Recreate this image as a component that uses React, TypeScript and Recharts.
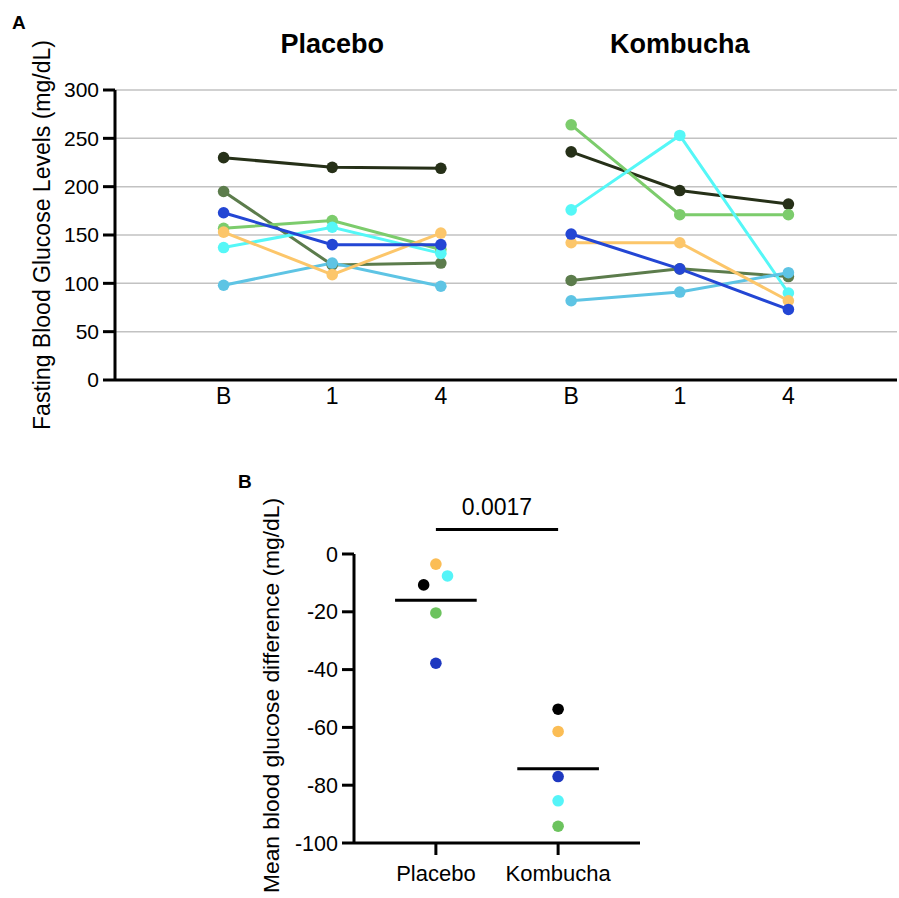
import React from 'react';
import {
  LineChart,
  Line,
  XAxis,
  YAxis,
  CartesianGrid,
  ScatterChart,
  Scatter,
  ReferenceLine,
} from 'recharts';

// ---------- Panel A data ----------
const timepoints = ['B', '1', '4'];
const groups = ['Placebo', 'Kombucha'];
const glucoseTicks = [0, 50, 100, 150, 200, 250, 300];

// rows = subjects, columns = timepoints (B, 1, 4)
const placeboGlucose = [
  [230, 220, 219],
  [195, 119, 121],
  [157, 165, 135],
  [137, 158, 131],
  [98, 121, 97],
  [153, 109, 152],
  [173, 140, 140],
];
const kombuchaGlucose = [
  [236, 196, 182],
  [103, 115, 107],
  [264, 171, 171],
  [176, 253, 90],
  [82, 91, 111],
  [142, 142, 82],
  [151, 115, 73],
];

// ---------- Panel B data ----------
const diffGroups = ['Placebo', 'Kombucha'];
const diffTicks = [0, -20, -40, -60, -80, -100];
const placeboDiff = [-10.7, -20.4, -7.6, -3.5, -37.8];
const kombuchaDiff = [-53.7, -94.2, -85.4, -61.4, -77.0];
const pValue = '0.0017';

// ---------- styles / layout ----------
const subjectColors = ['#263018', '#5c7c4c', '#7ccc6c', '#55f7f7', '#5ec4e4', '#fcc66a', '#2346d4'];
const diffColors = ['#000000', '#6cc35e', '#55f4f8', '#fbbd55', '#1e38c0'];
const placeboJitter = [-0.1, 0, 0.095, 0, 0];
const kombuchaJitter = [0, 0, 0, 0, 0];
const GROUP_STEP = timepoints.length + 0.2;
const FONT = '"Liberation Sans", Arial, Helvetica, sans-serif';

const glucoseSeries = [placeboGlucose, kombuchaGlucose];
const glucoseRows = groups.flatMap((g, gi) =>
  timepoints.map((t, ti) => {
    const row: Record<string, any> = { x: 1 + ti + gi * GROUP_STEP, label: t };
    glucoseSeries[gi].forEach((vals, si) => {
      row[`g${gi}s${si}`] = vals[ti];
    });
    return row;
  })
);
const glucoseTickPositions = glucoseRows.map((r) => r.x);
const groupCenters = groups.map((_, gi) => 1 + (timepoints.length - 1) / 2 + gi * GROUP_STEP);

const labelForX = (v: number) => {
  const r = glucoseRows.find((row) => Math.abs(row.x - v) < 1e-6);
  return r ? r.label : '';
};
const groupForX = (v: number) => {
  const i = groupCenters.findIndex((c) => Math.abs(c - v) < 1e-6);
  return i >= 0 ? groups[i] : '';
};

const mean = (a: number[]) => a.reduce((s, v) => s + v, 0) / a.length;
const diffSeries = [placeboDiff, kombuchaDiff];
const diffJitter = [placeboJitter, kombuchaJitter];
const subjectDiffData = diffColors.map((_, si) =>
  diffSeries.map((vals, gi) => ({ x: gi + 1 + diffJitter[gi][si], y: vals[si] }))
);
const diffMeans = diffSeries.map(mean);
const MEAN_HALF = 0.334;
const SIG_Y = 8.5;

const axisStroke = { stroke: '#000', strokeWidth: 3 };

const makeVerticalLabel =
  (text: string, baselineX: number, fontSize: number, shiftY = 0) =>
  (props: any) => {
    const vb = props.viewBox || {};
    const cy = vb.y + vb.height / 2 + shiftY;
    return (
      <text
        x={baselineX}
        y={cy}
        transform={`rotate(-90 ${baselineX} ${cy})`}
        textAnchor="middle"
        fontSize={fontSize}
        fill="#000"
        fontFamily={FONT}
      >
        {text}
      </text>
    );
  };

const Dot = (props: any) => {
  const { cx, cy, fill } = props;
  if (cx == null || cy == null) return null;
  return <circle cx={cx} cy={cy} r={5.8} fill={fill} />;
};

export default function App() {
  return (
    <div
      style={{
        position: 'absolute',
        left: 0,
        top: 0,
        width: 899,
        height: 898,
        background: '#fff',
        fontFamily: FONT,
        overflow: 'hidden',
      }}
    >
      <div style={{ position: 'absolute', left: 0, top: 0 }}>
        <LineChart
          width={899}
          height={440}
          data={glucoseRows}
          margin={{ top: 30, right: 2, bottom: 20, left: 0 }}
        >
          <CartesianGrid
            xAxisId="main"
            vertical={false}
            stroke="#c2c2c2"
            strokeWidth={1.5}
          />
          <XAxis
            xAxisId="title"
            orientation="top"
            type="number"
            dataKey="x"
            domain={[0, 7.2]}
            ticks={groupCenters}
            interval={0}
            tickFormatter={groupForX}
            axisLine={false}
            tickLine={false}
            tickSize={0}
            tickMargin={37}
            height={60}
            tick={{ fontSize: 27, fontWeight: 'bold', fill: '#000' }}
          />
          <XAxis
            xAxisId="main"
            type="number"
            dataKey="x"
            domain={[0, 7.2]}
            ticks={glucoseTickPositions}
            interval={0}
            tickFormatter={labelForX}
            axisLine={axisStroke}
            tickLine={false}
            tickSize={0}
            tickMargin={8}
            height={40}
            tick={{ fontSize: 23, fill: '#000' }}
          />
          <YAxis
            type="number"
            domain={[0, 300]}
            ticks={glucoseTicks}
            interval={0}
            width={115}
            axisLine={axisStroke}
            tickLine={axisStroke}
            tickSize={12}
            tickMargin={4}
            tick={{ fontSize: 21, fill: '#000' }}
            label={{ content: makeVerticalLabel('Fasting Blood Glucose Levels (mg/dL)', 50, 23) }}
          />
          {glucoseSeries.map((series, gi) =>
            series.map((_, si) => (
              <Line
                key={`g${gi}s${si}`}
                xAxisId="main"
                dataKey={`g${gi}s${si}`}
                stroke={subjectColors[si]}
                strokeWidth={3}
                dot={<Dot fill={subjectColors[si]} />}
                activeDot={false}
                isAnimationActive={false}
                connectNulls={false}
              />
            ))
          )}
        </LineChart>
      </div>

      <div style={{ position: 'absolute', left: 0, top: 440 }}>
        <ScatterChart
          width={899}
          height={458}
          margin={{ top: 114, right: 259, bottom: 5, left: 0 }}
        >
          <XAxis
            type="number"
            dataKey="x"
            domain={[0.33, 2.67]}
            ticks={[1, 2]}
            interval={0}
            tickFormatter={(v: number) => diffGroups[Math.round(v) - 1] || ''}
            axisLine={axisStroke}
            tickLine={axisStroke}
            tickSize={12}
            tickMargin={10}
            height={50}
            tick={{ fontSize: 22, fill: '#000' }}
          />
          <YAxis
            type="number"
            dataKey="y"
            domain={[-100, 0]}
            ticks={diffTicks}
            interval={0}
            width={354}
            axisLine={axisStroke}
            tickLine={axisStroke}
            tickSize={12}
            tickMargin={4}
            tick={{ fontSize: 21.5, fill: '#000' }}
            label={{ content: makeVerticalLabel('Mean blood glucose difference (mg/dL)', 279, 22.8, -3) }}
          />
          {diffMeans.map((m, gi) => (
            <ReferenceLine
              key={`mean${gi}`}
              segment={[
                { x: gi + 1 - MEAN_HALF, y: m },
                { x: gi + 1 + MEAN_HALF, y: m },
              ]}
              stroke="#000"
              strokeWidth={3}
              ifOverflow="visible"
            />
          ))}
          <ReferenceLine
            segment={[
              { x: 1, y: SIG_Y },
              { x: 2, y: SIG_Y },
            ]}
            stroke="#000"
            strokeWidth={3}
            ifOverflow="visible"
            label={{ value: pValue, position: 'top', offset: 14, fontSize: 23, fill: '#000' }}
          />
          {subjectDiffData.map((d, si) => (
            <Scatter
              key={`sub${si}`}
              data={d}
              fill={diffColors[si]}
              shape={<Dot fill={diffColors[si]} />}
              isAnimationActive={false}
            />
          ))}
        </ScatterChart>
      </div>

      <svg
        width={899}
        height={898}
        style={{ position: 'absolute', left: 0, top: 0, pointerEvents: 'none' }}
      >
        <text x={12} y={29} fontSize={19} fontWeight="bold" fill="#000" fontFamily={FONT}>
          A
        </text>
        <text x={238} y={488} fontSize={19} fontWeight="bold" fill="#000" fontFamily={FONT}>
          B
        </text>
      </svg>
    </div>
  );
}
